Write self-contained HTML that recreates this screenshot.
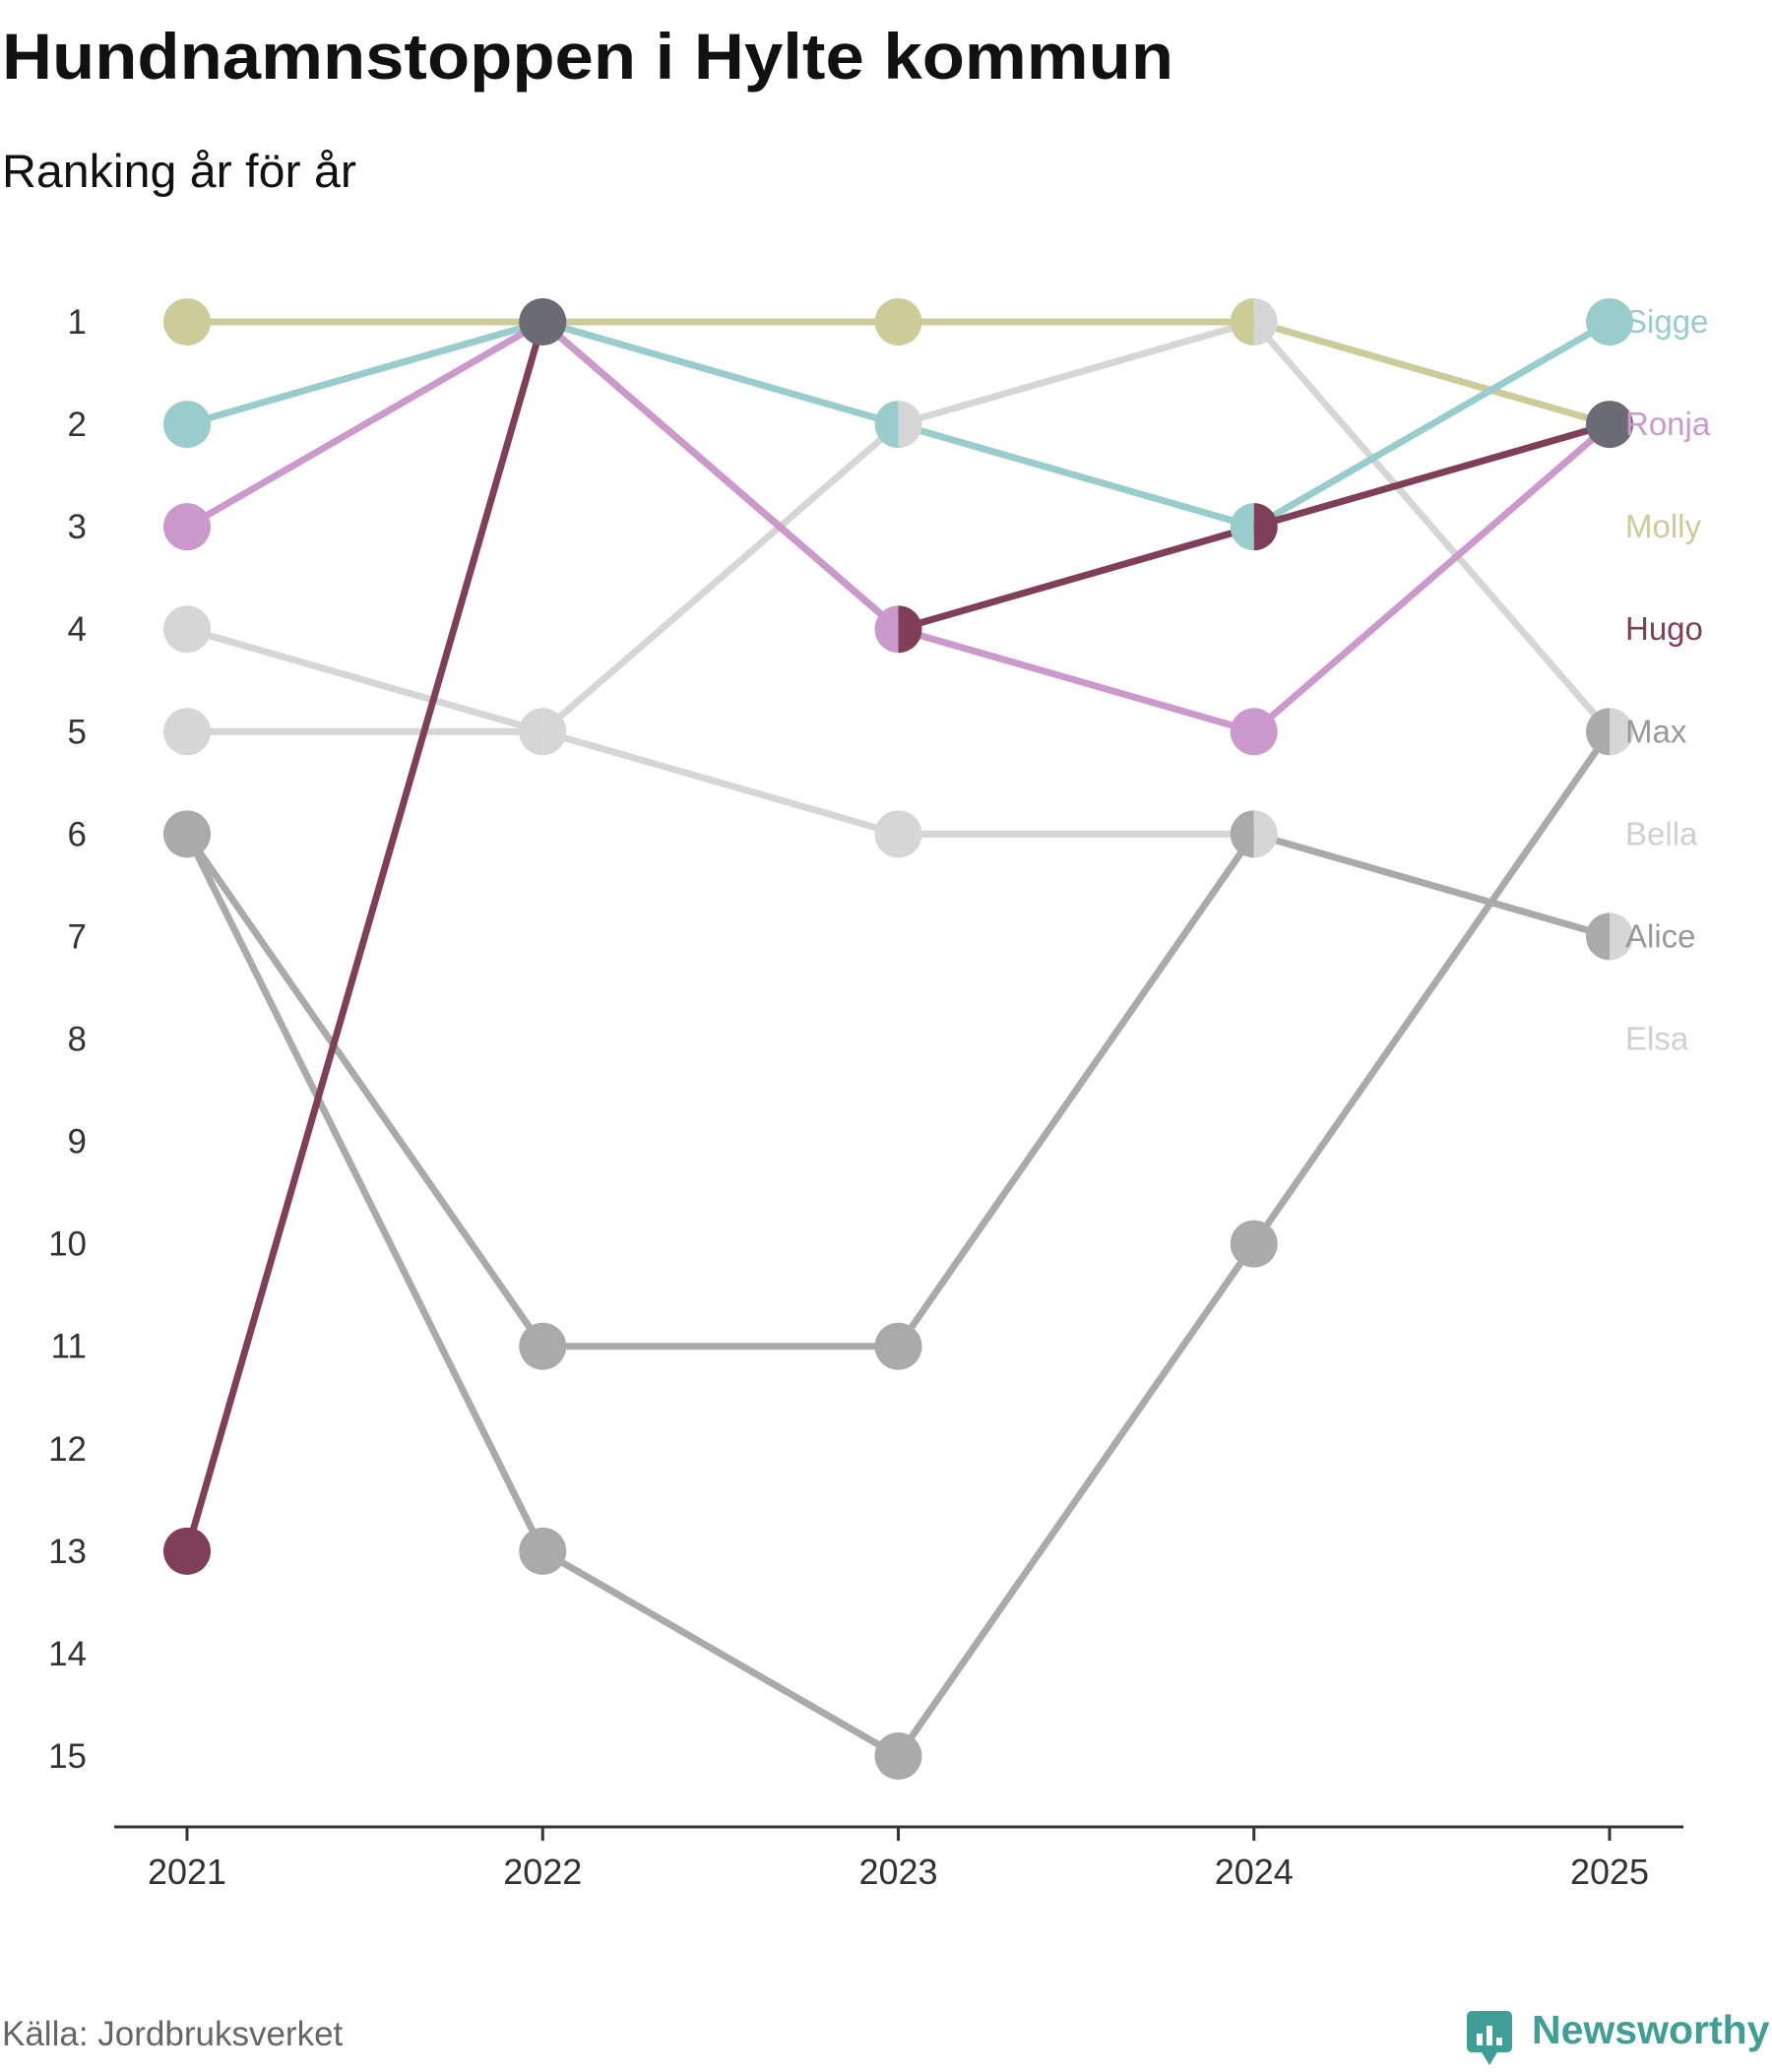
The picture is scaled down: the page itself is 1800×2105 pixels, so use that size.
<!DOCTYPE html>
<html><head><meta charset="utf-8">
<style>
body{margin:0;background:#fff;width:1800px;height:2100px;overflow:hidden;font-family:"Liberation Sans",sans-serif;}
</style></head>
<body>
<svg id="chart" width="1800" height="2100" xmlns="http://www.w3.org/2000/svg">
<text x="2" y="80" font-size="66" font-weight="bold" fill="#111" textLength="1190" lengthAdjust="spacingAndGlyphs">Hundnamnstoppen i Hylte kommun</text>
<text x="2" y="190" font-size="47" fill="#111" textLength="360" lengthAdjust="spacingAndGlyphs">Ranking år för år</text>
<text x="2" y="2078" font-size="35" fill="#666">Källa: Jordbruksverket</text>
<g>
<rect x="1490" y="2043" width="46" height="42" rx="5" fill="#3f9e96"/>
<path d="M1505 2085 L1513 2098 L1521 2085Z" fill="#3f9e96"/>
<rect x="1500" y="2066" width="6" height="12" fill="#fff"/><rect x="1510" y="2058" width="6" height="20" fill="#fff"/><rect x="1520" y="2070" width="6" height="8" fill="#fff"/>
<text x="1556" y="2076" font-size="41" font-weight="bold" fill="#3f9e96">Newsworthy</text>
</g>
<g id="plot"></g>
</svg>
<script>
const years=[2021,2022,2023,2024,2025];
const names=["Molly","Sigge","Ronja","Hugo","Max","Bella","Alice","Elsa"];
const colors=["#cccc99","#99cccc","#cc99cc","#7f3f57","#d6d6d6","#d6d6d6","#aaaaaa","#aaaaaa"];
const molly=[1,1,1,1,2];
const sigge=[2,1,2,3,1];
const ronja=[3,1,4,5,2];
const hugo=[13,1,4,3,2];
const max=[5,5,2,1,5];
const bella=[4,5,6,6,7];
const alice=[6,11,11,6,7];
const elsa=[6,13,15,10,5];
const series=[molly,sigge,ronja,hugo,max,bella,alice,elsa];
const rankTicks=[1,2,3,4,5,6,7,8,9,10,11,12,13,14,15];
const labelOrder=["Sigge","Ronja","Molly","Hugo","Max","Bella","Alice","Elsa"];
const labelColors=["#99cccc","#cc99cc","#cccc99","#7f3f57","#999999","#d0d0d0","#999999","#d0d0d0"];
const halfPriority=[0,1,2,6,7,3,4,5];

const NS="http://www.w3.org/2000/svg";
const g=document.getElementById('plot');
const x0=190,x1=1635,y0=327,y1=1784;
const xS=i=>x0+(x1-x0)*i/(years.length-1);
const yS=r=>y0+(y1-y0)*(r-1)/14;
function mk(t,a){const e=document.createElementNS(NS,t);for(const k in a)e.setAttribute(k,a[k]);g.appendChild(e);return e;}

rankTicks.forEach(r=>{
  const t=mk('text',{x:88,y:yS(r)+12,'font-size':35,fill:'#333','text-anchor':'end'});
  
  
  t.textContent=r;
});
const ax=mk('line',{x1:116,x2:1710,y1:1856,y2:1856,stroke:'#333','stroke-width':3});


years.forEach((y,i)=>{
  const tk=mk('line',{x1:xS(i),x2:xS(i),y1:1856,y2:1870,stroke:'#333','stroke-width':3});
  
  
  const t=mk('text',{x:xS(i),y:1914,'font-size':36,fill:'#333','text-anchor':'middle'});
  
  
  t.textContent=y;
});
const drawOrder=[5,4,7,6,0,1,3,2];
drawOrder.forEach(s=>{
  const pts=series[s].map((r,i)=>xS(i)+','+yS(r)).join(' ');
  const l=mk('polyline',{points:pts,fill:'none',stroke:colors[s],'stroke-width':7,'stroke-linejoin':'round'});
  
  
});
const R=24;
years.forEach((y,i)=>{
  const groups={};
  drawOrder.forEach(s=>{const r=series[s][i];(groups[r]=groups[r]||[]).push(s);});
  Object.keys(groups).forEach(r=>{
    const arr=groups[r],cx=xS(i),cy=yS(+r);
    if(arr.length>=3){
      const c=mk('circle',{cx:cx,cy:cy,r:R,fill:'#6b6b75'});
      
      
    } else if(arr.length==2){
      arr.sort((p,q)=>halfPriority.indexOf(p)-halfPriority.indexOf(q));
      const a=mk('path',{d:`M${cx} ${cy-R} A${R} ${R} 0 0 0 ${cx} ${cy+R}Z`,fill:colors[arr[0]]});
      
      
      const b=mk('path',{d:`M${cx} ${cy-R} A${R} ${R} 0 0 1 ${cx} ${cy+R}Z`,fill:colors[arr[1]]});
      
      
    } else {
      const c=mk('circle',{cx:cx,cy:cy,r:R,fill:colors[arr[0]]});
      
      
    }
  });
});
labelOrder.forEach((n,k)=>{
  const t=mk('text',{x:1651,y:yS(k+1)+11,'font-size':33,fill:labelColors[k]});
  
  
  t.textContent=n;
});
</script>
</body></html>
